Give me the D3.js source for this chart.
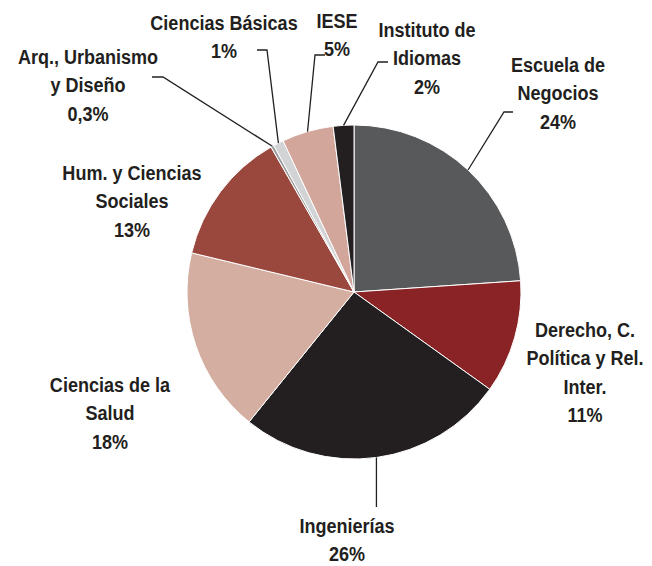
<!DOCTYPE html>
<html>
<head>
<meta charset="utf-8">
<script src="https://cdn.jsdelivr.net/npm/d3@7"></script>
<style>
  html, body { margin: 0; padding: 0; background: #ffffff; }
  svg text { font-family: "Liberation Sans", Arial, sans-serif; font-weight: 700; fill: #231f20; }
</style>
</head>
<body>
<svg id="chart" width="652" height="566"></svg>
<script>
// Shares of students by school / faculty (percent), clockwise from 12 o'clock
const categories = [
  "Escuela de Negocios",
  "Derecho, C. Política y Rel. Inter.",
  "Ingenierías",
  "Ciencias de la Salud",
  "Hum. y Ciencias Sociales",
  "Arq., Urbanismo y Diseño",
  "Ciencias Básicas",
  "IESE",
  "Instituto de Idiomas"
];
const values = [24, 11, 26, 18, 13, 0.3, 1, 5, 2];
const valueLabels = ["24%", "11%", "26%", "18%", "13%", "0,3%", "1%", "5%", "2%"];
const labelLines = [
  ["Escuela de", "Negocios"],
  ["Derecho, C.", "Política y Rel.", "Inter."],
  ["Ingenierías"],
  ["Ciencias de la", "Salud"],
  ["Hum. y Ciencias", "Sociales"],
  ["Arq., Urbanismo", "y Diseño"],
  ["Ciencias Básicas"],
  ["IESE"],
  ["Instituto de", "Idiomas"]
];
const colors = ["#58595b", "#8a2325", "#231f20", "#d4aea0", "#9a473e", "#9d9d9d", "#d1d3d4", "#d2a69b", "#231f20"];

// Label anchors (centre x, first baseline y) and leader-line routing
const labelPos = [
  [558, 72], [585, 337], [347, 533], [110, 392], [132, 180],
  [88, 64], [224, 30], [337, 28], [427, 37]
];
// leader: [elbow, end] or null; "v" = vertical drop to a y value
const leaders = [
  [[504, 112], [513, 112]],
  null,
  { v: 507 },
  null,
  null,
  [[163, 77], [152, 77]],
  [[267, 50], [257, 50]],
  [[315, 55], [325, 55]],
  [[378, 62], [388, 62]]
];

const cx = 354, cy = 292, radius = 167, lineH = 28.5;
const svg = d3.select("#chart");
const g = svg.append("g").attr("transform", `translate(${cx},${cy})`);

const data = categories.map((c, i) => ({ name: c, value: values[i], i }));
const pie = d3.pie().value(d => d.value).sort(null);
const arcs = pie(data);
const arc = d3.arc().innerRadius(0).outerRadius(radius);

g.selectAll("path.slice")
  .data(arcs)
  .join("path")
  .attr("class", "slice")
  .attr("d", arc)
  .attr("fill", d => colors[d.data.i])
  .attr("stroke", "#ffffff")
  .attr("stroke-width", 1);

// Leader lines from slice edge to labels
const edge = d3.arc().innerRadius(radius).outerRadius(radius);
arcs.forEach(a => {
  const L = leaders[a.data.i];
  if (!L) return;
  const [ex, ey] = edge.centroid(a);
  const sx = ex + cx, sy = ey + cy;
  let pts;
  if (L.v !== undefined) pts = [[sx, sy], [sx, L.v]];
  else pts = [[sx, sy], L[0], L[1]];
  svg.append("path")
    .attr("d", d3.line()(pts))
    .attr("fill", "none")
    .attr("stroke", "#231f20")
    .attr("stroke-width", 1.3);
});

// Labels (slightly condensed bold face)
data.forEach(d => {
  const [x, y] = labelPos[d.i];
  const lines = labelLines[d.i].concat([valueLabels[d.i]]);
  const t = svg.append("text")
    .attr("text-anchor", "middle")
    .attr("font-size", 20.5)
    .attr("transform", `translate(${x},${y}) scale(0.88,1)`);
  lines.forEach((s, k) => {
    t.append("tspan").attr("x", 0).attr("y", k * lineH).text(s);
  });
});
</script>
</body>
</html>
